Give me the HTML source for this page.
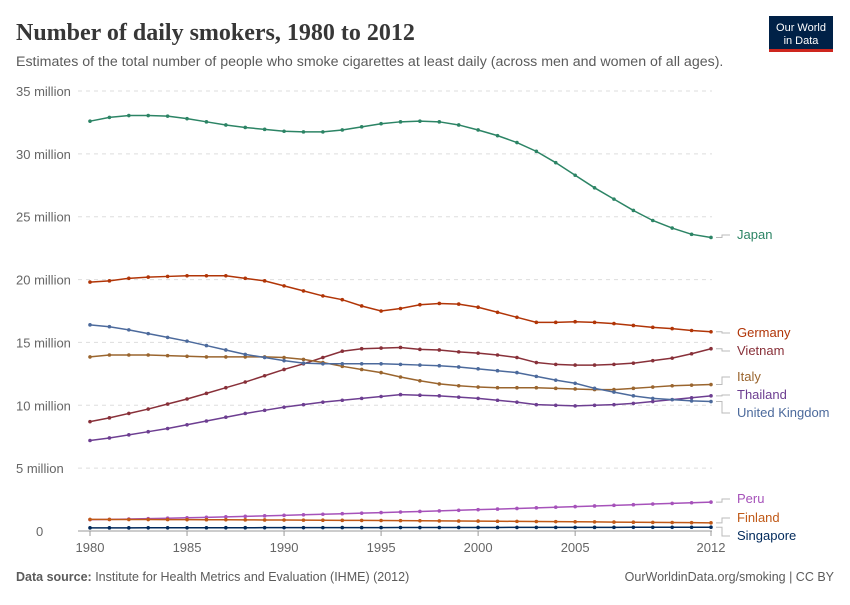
<!DOCTYPE html>
<html><head><meta charset="utf-8"><style>
body{margin:0;background:#fff;width:850px;height:600px;overflow:hidden;font-family:"Liberation Sans",sans-serif}
</style></head><body>
<svg id="s" width="850" height="600" xmlns="http://www.w3.org/2000/svg">
<text x="16" y="40" font-family="Liberation Serif,serif" font-size="24" font-weight="bold" fill="#373737">Number of daily smokers, 1980 to 2012</text>
<text x="16" y="66" font-size="14.2" fill="#5b5b5b">Estimates of the total number of people who smoke cigarettes at least daily (across men and women of all ages).</text>
<rect x="769" y="16" width="64" height="36" fill="#002147"/>
<rect x="769" y="49" width="64" height="3" fill="#ce261e"/>
<text x="801" y="31" font-size="11" fill="#fff" text-anchor="middle">Our World</text>
<text x="801" y="44" font-size="11" fill="#fff" text-anchor="middle">in Data</text>
<text x="16" y="581" font-size="12.5" fill="#5b5b5b"><tspan font-weight="bold">Data source:</tspan> Institute for Health Metrics and Evaluation (IHME) (2012)</text>
<text x="834" y="581" font-size="12.5" fill="#5b5b5b" text-anchor="end">OurWorldinData.org/smoking | CC BY</text>
<g id="g"></g>
</svg>
<script>
const g=document.getElementById('g');let h='';
const X=y=>90+(y-1980)*19.406, Y=v=>531-v*12.571;
for(let i=1;i<=7;i++){const y=Y(i*5);h+=`<line x1="78" x2="712" y1="${y}" y2="${y}" stroke="#ddd" stroke-dasharray="4,4"/><text x="16" y="${y+5}" font-size="13" fill="#666">${i*5} million</text>`;}
h+=`<line x1="78" x2="712" y1="531" y2="531" stroke="#999"/><text x="36" y="536" font-size="13" fill="#666">0</text>`;
[[1980,'1980'],[1985,'1985'],[1990,'1990'],[1995,'1995'],[2000,'2000'],[2005,'2005'],[2012,'2012']].forEach(([y,t])=>{const x=X(y);h+=`<line x1="${x}" x2="${x}" y1="531" y2="536" stroke="#999"/><text x="${x}" y="552" font-size="13" fill="#666" text-anchor="middle">${t}</text>`;});
const S=[
['Japan','#2c8465',239,[32.6,32.9,33.05,33.05,33,32.8,32.55,32.3,32.1,31.95,31.8,31.75,31.75,31.9,32.15,32.4,32.55,32.6,32.55,32.3,31.9,31.45,30.9,30.2,29.3,28.3,27.3,26.4,25.5,24.7,24.1,23.6,23.35]],
['Germany','#b13507',337,[19.8,19.9,20.1,20.2,20.25,20.3,20.3,20.3,20.1,19.9,19.5,19.1,18.7,18.4,17.9,17.5,17.7,18,18.1,18.05,17.8,17.4,17,16.6,16.6,16.65,16.6,16.5,16.35,16.2,16.1,15.95,15.85]],
['Vietnam','#883039',355,[8.7,9,9.35,9.7,10.1,10.5,10.95,11.4,11.85,12.35,12.85,13.3,13.8,14.3,14.5,14.55,14.6,14.45,14.4,14.25,14.15,14,13.8,13.4,13.25,13.2,13.2,13.25,13.35,13.55,13.75,14.1,14.5]],
['Italy','#9a652e',381,[13.85,14,14,14,13.95,13.9,13.85,13.85,13.85,13.85,13.8,13.65,13.4,13.1,12.85,12.6,12.25,11.95,11.7,11.55,11.45,11.4,11.4,11.4,11.35,11.3,11.25,11.25,11.35,11.45,11.55,11.6,11.65]],
['Thailand','#6d3e91',399,[7.2,7.4,7.65,7.9,8.15,8.45,8.75,9.05,9.35,9.6,9.85,10.05,10.25,10.4,10.55,10.7,10.85,10.8,10.75,10.65,10.55,10.4,10.25,10.05,10,9.95,10,10.05,10.15,10.3,10.45,10.6,10.75]],
['United Kingdom','#4c6a9c',417,[16.4,16.25,16,15.7,15.4,15.1,14.75,14.4,14.05,13.8,13.55,13.35,13.3,13.3,13.3,13.3,13.25,13.2,13.15,13.05,12.9,12.75,12.6,12.3,12,11.75,11.35,11.05,10.75,10.55,10.45,10.35,10.3]],
['Peru','#a652ba',503,Array.from({length:33},(_,i)=>0.9+1.4*(i/32)**1.2)],
['Finland','#c05917',522,Array.from({length:33},(_,i)=>0.92-0.27*(i/32)**1.5)],
['Singapore','#00295b',540,Array.from({length:33},(_,i)=>0.25+0.05*i/32)]];
S.forEach(([n,c,ly,d])=>{const pts=d.map((v,i)=>[X(1980+i),Y(v)]);
h+=`<polyline fill="none" stroke="${c}" stroke-width="1.5" points="${pts.map(p=>p.join(',')).join(' ')}"/>`;
pts.forEach(p=>h+=`<circle cx="${p[0]}" cy="${p[1]}" r="1.8" fill="${c}"/>`);
const ey=pts[32][1];h+=`<polyline fill="none" stroke="#bbb" points="716,${ey} 722,${ey} 722,${ly-4} 730,${ly-4}"/><text x="737" y="${ly}" font-size="13" fill="${c}">${n}</text>`;});
g.innerHTML=h;
</script>
</body></html>
